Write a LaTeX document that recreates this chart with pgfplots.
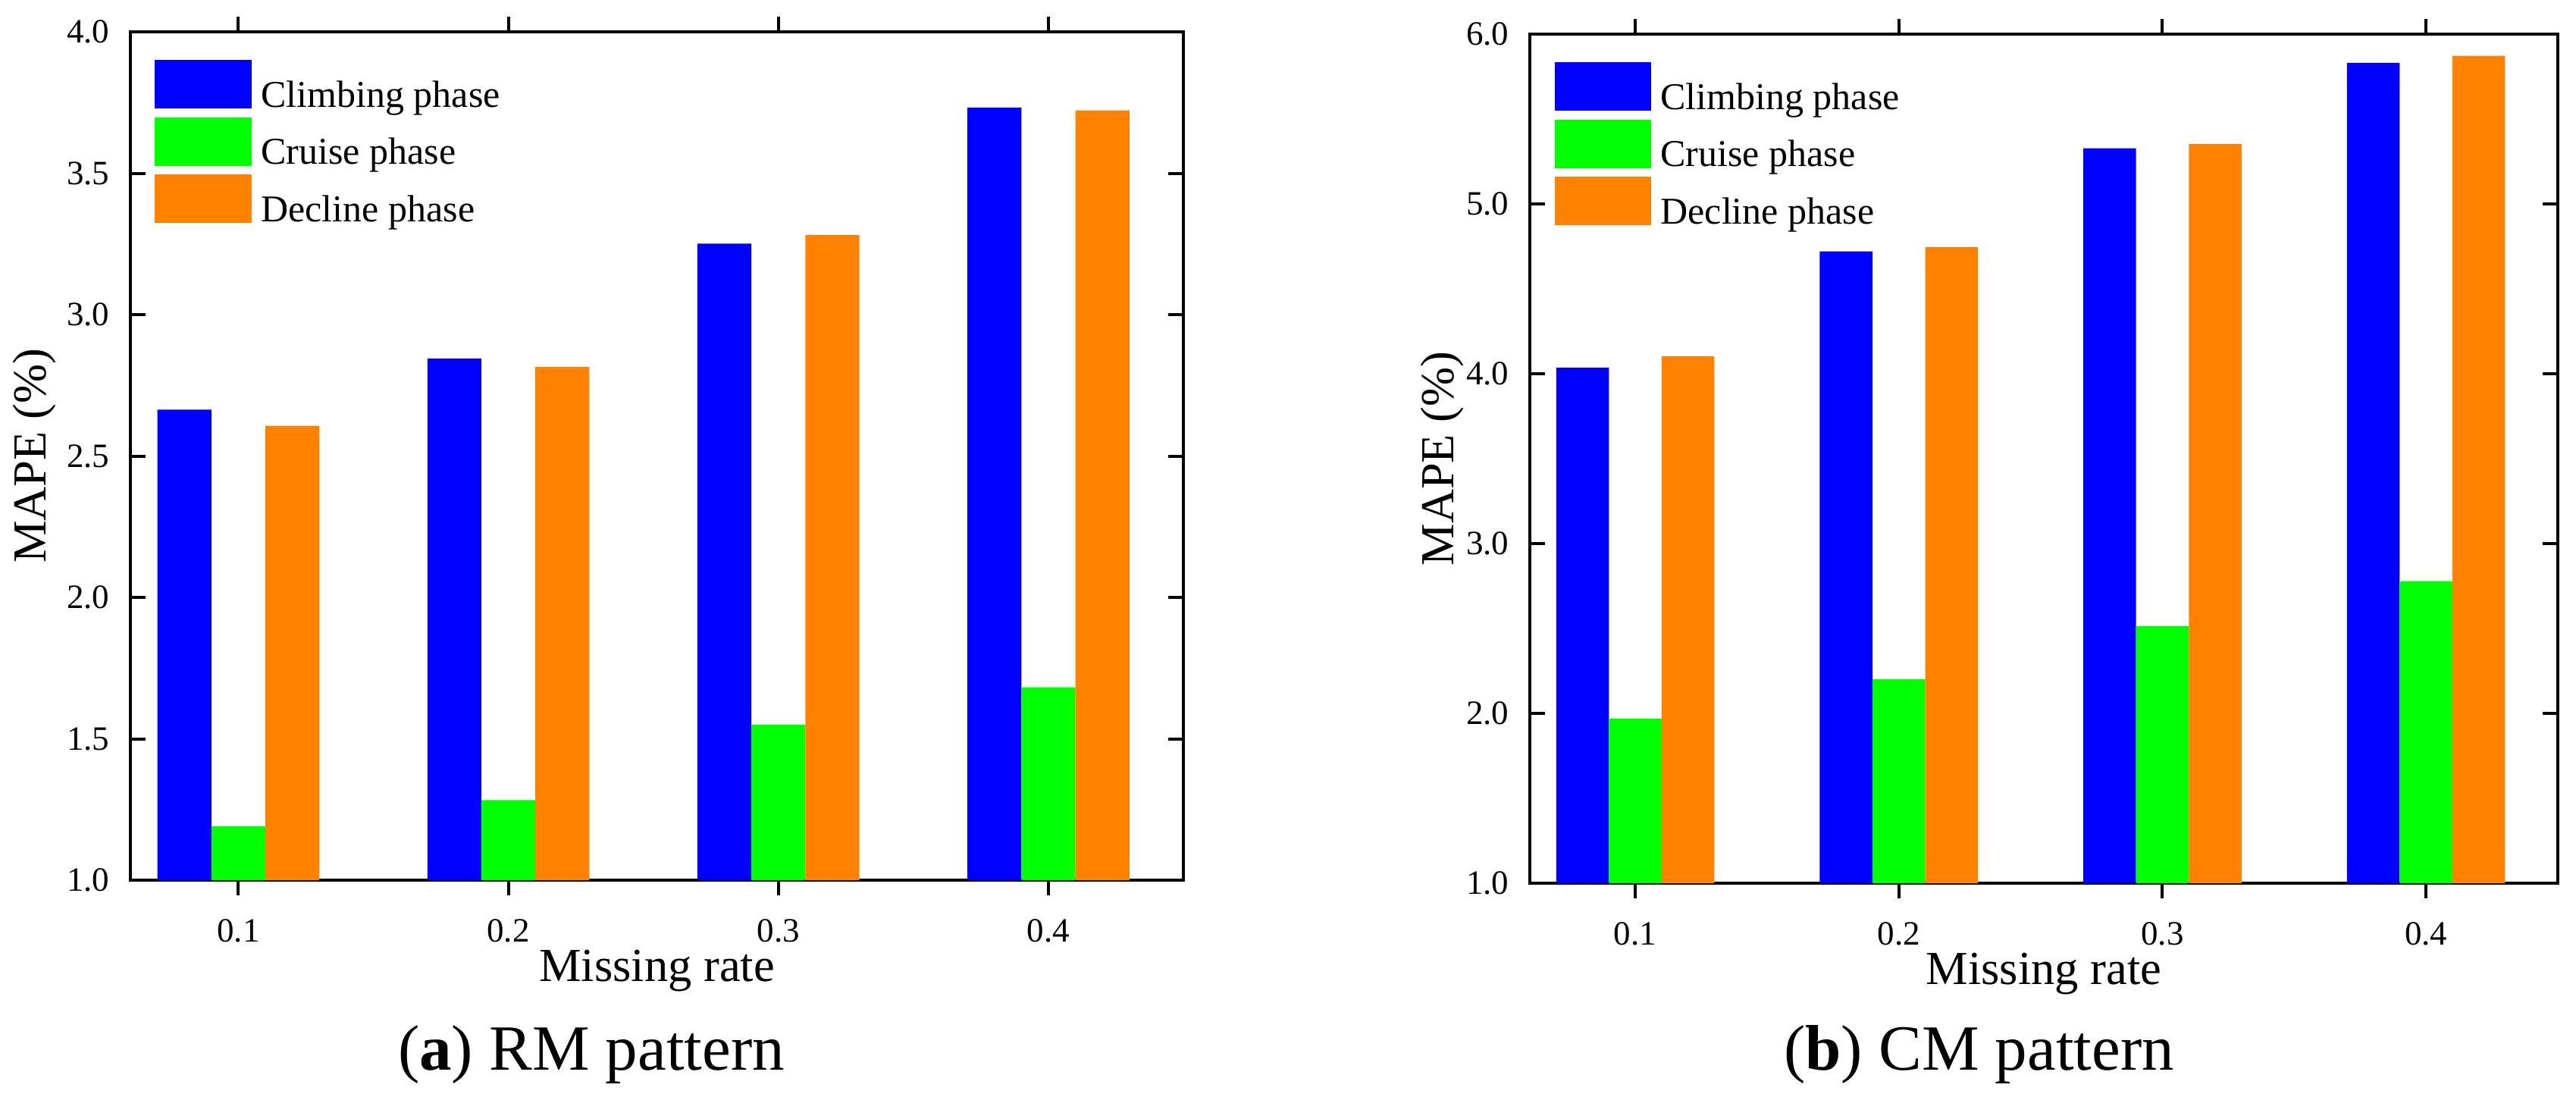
\documentclass[border=0pt]{standalone}
\usepackage{fontspec}
\setmainfont{Liberation Serif}
\usepackage{pgfplots}
\pgfplotsset{compat=1.18}
\definecolor{cblue}{RGB}{0,0,255}
\definecolor{cgreen}{RGB}{0,255,0}
\definecolor{corange}{RGB}{255,130,0}
\pgfplotsset{
  common/.style={
    scale only axis,
    anchor=south west,
    clip mode=individual,
    xmin=-0.4, xmax=3.5,
    xtick={0,1,2,3},
    xticklabels={0.1,0.2,0.3,0.4},
    tick align=inside,
    major tick length=4pt,
    tick style={line width=0.8pt, black},
    axis line style={line width=0.9pt},
    ybar,
    bar width=0.2,
    /pgf/number format/assume math mode=true,
    /pgf/number format/fixed,
    /pgf/number format/fixed zerofill,
    /pgf/number format/precision=1,
    ticklabel style={font=\fontsize{9}{10}\selectfont},
    yticklabel style={xshift=-2pt},
    xticklabel style={yshift=-2.8pt},
    label style={font=\fontsize{12.5}{14}\selectfont},
    legend style={
      at={(axis description cs:0,1)}, anchor=north west,
      xshift=6.3pt, yshift=-7.2pt,
      draw=none, fill=none, inner sep=0pt,
      row sep=1.2pt, column sep=2.6pt,
      nodes={inner sep=0pt},
      font=\fontsize{10}{12}\selectfont,
    },
    legend cell align=left,
    legend image code/.code={\fill[##1] (0pt,-3.1pt) rectangle (25.4pt,9.7pt);},
  },
}
\pgfplotstableread{
x climb cruise decline
0 2.664 1.191 2.607
1 2.845 1.283 2.815
2 3.251 1.550 3.281
3 3.732 1.682 3.722
}\rmdata
\pgfplotstableread{
x climb cruise decline
0 4.036 1.969 4.102
1 4.721 2.200 4.746
2 5.328 2.514 5.352
3 5.831 2.778 5.872
}\cmdata
\begin{document}
\begin{tikzpicture}
\path[use as bounding box] (0,0) rectangle (679.6pt,290pt);
\begin{axis}[common,
  at={(34.4pt,57.8pt)}, width=277.8pt, height=223.8pt,
  ymin=1, ymax=4, ytick={1,1.5,2,2.5,3,3.5,4},
  xlabel={Missing rate}, ylabel={MAPE (\%)},
  xlabel style={at={(axis description cs:0.5,-0.1197)}, anchor=base},
  ylabel style={at={(axis description cs:-0.0806,0.5)}, anchor=base},
]
\addplot[fill=cblue, draw=none, bar shift=-0.2] table[x=x,y=climb]{\rmdata};
\addplot[fill=cgreen, draw=none, bar shift=0] table[x=x,y=cruise]{\rmdata};
\addplot[fill=corange, draw=none, bar shift=0.2] table[x=x,y=decline]{\rmdata};
\legend{Climbing phase, Cruise phase, Decline phase}
\node[anchor=base, font=\fontsize{17}{20}\selectfont] at (axis description cs:0.4377,-0.2234) {(\textbf{a}) RM pattern};
\end{axis}
\begin{axis}[common,
  at={(403.6pt,57.0pt)}, width=271.2pt, height=224pt,
  ymin=1, ymax=6, ytick={1,2,3,4,5,6},
  xlabel={Missing rate}, ylabel={MAPE (\%)},
  xlabel style={at={(axis description cs:0.5,-0.1188)}, anchor=base},
  ylabel style={at={(axis description cs:-0.0745,0.5)}, anchor=base},
]
\addplot[fill=cblue, draw=none, bar shift=-0.2] table[x=x,y=climb]{\cmdata};
\addplot[fill=cgreen, draw=none, bar shift=0] table[x=x,y=cruise]{\cmdata};
\addplot[fill=corange, draw=none, bar shift=0.2] table[x=x,y=decline]{\cmdata};
\legend{Climbing phase, Cruise phase, Decline phase}
\node[anchor=base, font=\fontsize{17}{20}\selectfont] at (axis description cs:0.437,-0.2205) {(\textbf{b}) CM pattern};
\end{axis}
\end{tikzpicture}
\end{document}
